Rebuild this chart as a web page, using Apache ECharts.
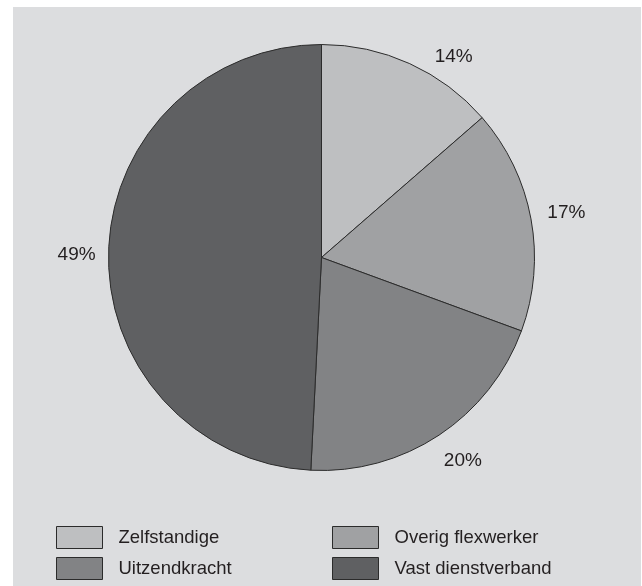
<!DOCTYPE html>
<html>
<head>
<meta charset="utf-8">
<script src="https://cdn.jsdelivr.net/npm/echarts@6/dist/echarts.min.js"></script>
<style>
  html, body { margin: 0; padding: 0; background: #ffffff; }
  #pieChart {
    position: absolute;
    left: 13px;
    top: 7px;
    width: 628px;
    height: 579px;
    background: #dcdddf;
  }
</style>
</head>
<body>
<div id="pieChart"></div>
<script>
  // categories and shares (percent)
  var categories = ['Zelfstandige', 'Overig flexwerker', 'Uitzendkracht', 'Vast dienstverband'];
  var shares = [13.6, 17.0, 20.2, 49.2];
  var sliceColors = ['#bebfc1', '#a0a1a3', '#828385', '#5f6062'];

  var pieChart = echarts.init(document.getElementById('pieChart'));

  var textColor = '#231f20';
  var fontFamily = '"Liberation Sans", Arial, Helvetica, sans-serif';

  var pieData = categories.map(function (name, i) {
    return { name: name, value: shares[i], itemStyle: { color: sliceColors[i] } };
  });

  // small nudges so the % labels sit where the original put them
  var labelNudge = [[29, 26], [0, 0], [4, -4], [4, 4]];

  // label ring: same values, invisible, only used to put the % text centred outside the pie
  var labelData = categories.map(function (name, i) {
    return { name: name, value: shares[i], label: { offset: labelNudge[i] } };
  });

  // one legend per column so the boxes line up
  function makeLegend(left, names) {
    return {
      orient: 'vertical',
      left: left,
      top: 519,
      padding: 0,
      icon: 'rect',
      itemWidth: 46,
      itemHeight: 22,
      itemGap: 8,
      selectedMode: false,
      itemStyle: { borderColor: '#2b2b2b', borderWidth: 1 },
      textStyle: {
        color: textColor,
        fontSize: 18.5,
        fontFamily: fontFamily,
        padding: [0, 0, 0, 11]
      },
      data: names
    };
  }

  var option = {
    animation: false,
    legend: [
      makeLegend(43, [categories[0], categories[2]]),
      makeLegend(319, [categories[1], categories[3]])
    ],
    series: [
      {
        name: 'verdeling',
        type: 'pie',
        center: [308.5, 250.5],
        radius: 213,
        startAngle: 90,
        clockwise: true,
        itemStyle: { borderColor: '#2b2b2b', borderWidth: 1 },
        label: { show: false },
        labelLine: { show: false },
        emphasis: { disabled: true },
        data: pieData
      },
      {
        name: 'labels',
        type: 'pie',
        silent: true,
        center: [308.5, 250.5],
        radius: [236, 256],
        startAngle: 90,
        clockwise: true,
        itemStyle: { color: 'rgba(0,0,0,0)', borderWidth: 0 },
        label: {
          show: true,
          position: 'inside',
          color: textColor,
          fontSize: 19,
          fontFamily: fontFamily,
          formatter: function (p) {
            return Math.round(p.value) + '%';
          }
        },
        labelLine: { show: false },
        emphasis: { disabled: true },
        data: labelData
      }
    ]
  };

  pieChart.setOption(option);
</script>
</body>
</html>
